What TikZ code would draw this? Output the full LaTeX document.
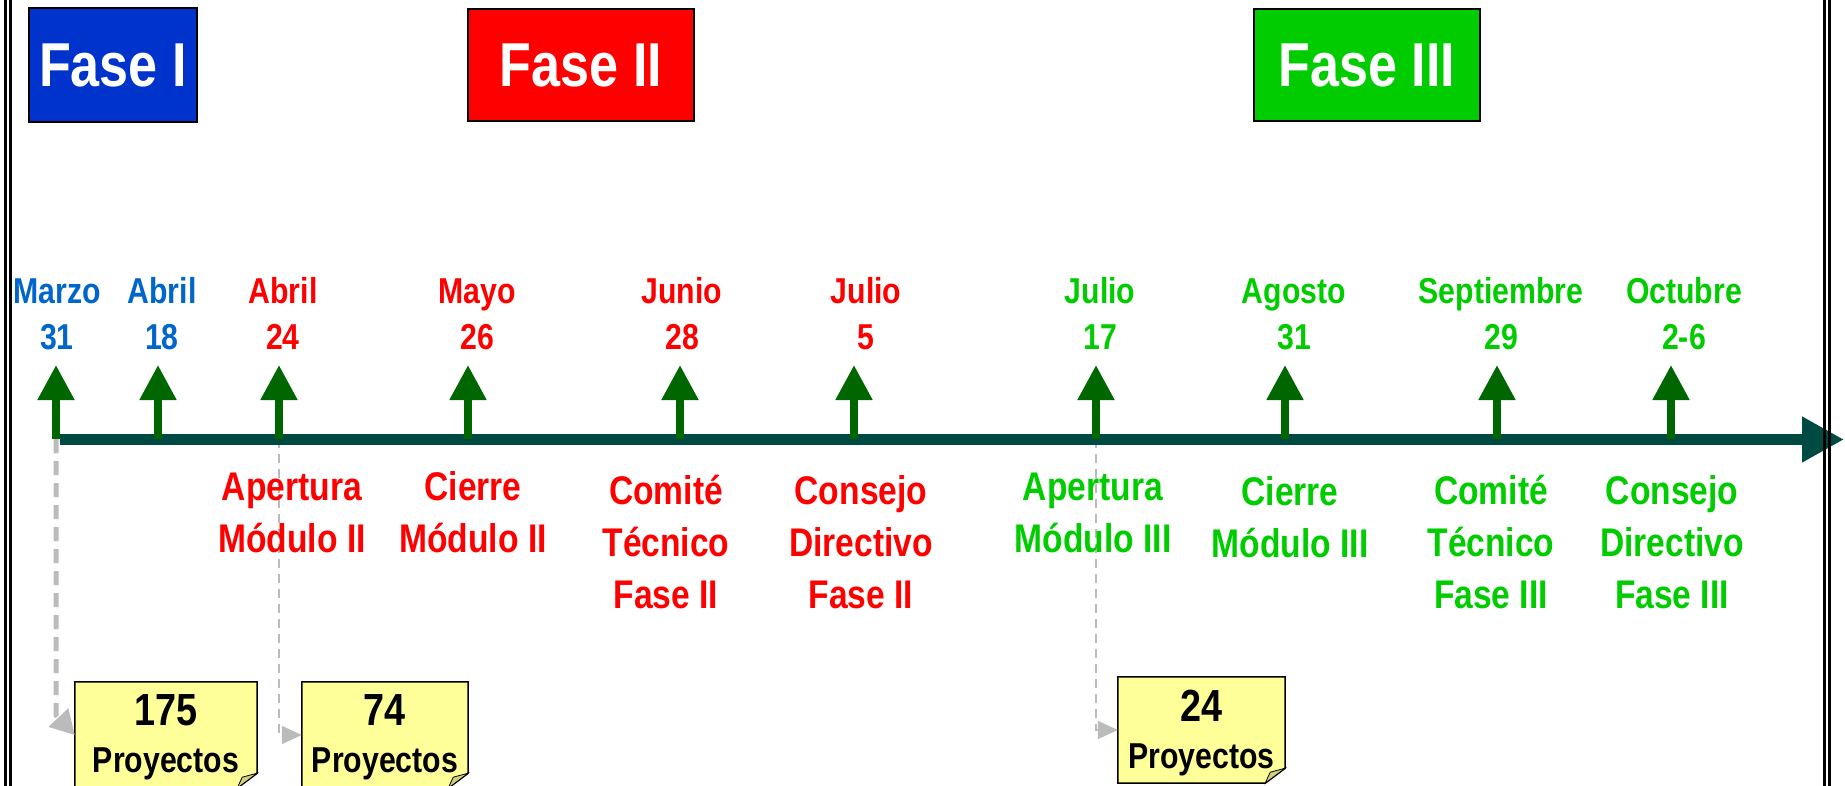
\documentclass[tikz,border=0pt]{standalone}
\usepackage{fontspec}
\setmainfont{Liberation Sans}[FakeStretch=0.84]
\usetikzlibrary{arrows.meta}

\definecolor{azulfase}{HTML}{0033CC}
\definecolor{rojofase}{HTML}{FF0000}
\definecolor{verdefase}{HTML}{00CC00}
\definecolor{azultexto}{HTML}{0066CC}
\definecolor{verdeflecha}{HTML}{006600}
\definecolor{ejecolor}{HTML}{004A44}
\definecolor{notafondo}{HTML}{FFFF99}
\definecolor{notapliegue}{HTML}{D2D27A}
\definecolor{grisguia}{HTML}{BBBBBB}

\tikzset{
  fasebox/.style={draw=black, line width=1.5pt, inner sep=0pt, text=white,
    font=\fontsize{62}{62}\selectfont\bfseries},
  mes/.style={anchor=base, align=center, inner sep=0pt,
    font=\fontsize{36}{46}\selectfont\bfseries},
  evento/.style={anchor=base, align=center, inner sep=0pt,
    font=\fontsize{40}{52}\selectfont\bfseries},
  hito/.style={draw=verdeflecha, line width=8pt,
    -{Triangle[length=35pt,width=35pt]}},
  eje/.style={draw=ejecolor, line width=11pt,
    -{Triangle[length=42pt,width=43pt]}},
  guia/.style={draw=grisguia, dash pattern=on 9pt off 6pt, line width=2pt,
    -{Triangle[length=20pt,width=18pt]}},
  nota/.style={inner sep=0pt},
  numnota/.style={anchor=base, inner sep=0pt, font=\fontsize{45}{45}\selectfont\bfseries},
  txtnota/.style={anchor=base, inner sep=0pt, font=\fontsize{36}{36}\selectfont\bfseries}
}

\begin{document}
\begin{tikzpicture}[x=1pt, y=-1pt]
  \useasboundingbox (0,0) rectangle (1845,786);
  \clip (0,0) rectangle (1845,786);

  % Phase boxes
  \node[fasebox, fill=azulfase, minimum width=168pt, minimum height=114pt] (f1) at (113,65) {Fase I};
  \node[fasebox, fill=rojofase, minimum width=226pt, minimum height=112pt] (f2) at (581,65) {Fase II};
  \node[fasebox, fill=verdefase, minimum width=226pt, minimum height=112pt] (f3) at (1367,65) {Fase III};

  % Points on the time line
  \foreach \x [count=\i] in {56,158,279,468,680,854,1096,1285,1497,1671}
    \coordinate (t\i) at (\x,439);

  % Sticky notes
  \node[nota, minimum width=182pt, minimum height=106pt] (n1) at (166,735) {};
  \node[nota, minimum width=166pt, minimum height=106pt] (n2) at (385,735) {};
  \node[nota, minimum width=167pt, minimum height=106pt] (n3) at (1201.5,730) {};
  \foreach \n in {n1,n2,n3} {
    \filldraw[fill=notafondo, draw=black, line width=1.5pt]
      (\n.north west) -- (\n.north east) -- ([yshift=15pt]\n.south east)
      -- ([xshift=-20pt]\n.south east) -- (\n.south west) -- cycle;
    \filldraw[fill=notapliegue, draw=black, line width=0.8pt]
      ([xshift=-20pt]\n.south east) -- ([yshift=15pt]\n.south east)
      -- ([xshift=-15pt,yshift=11pt]\n.south east) -- cycle;
  }
  \node[numnota] (n1a) at (166,725) {175};
  \node[txtnota] (n1b) at (166,772) {Proyectos};
  \node[numnota] (n2a) at (385,725) {74};
  \node[txtnota] (n2b) at (385,772) {Proyectos};
  \node[numnota] (n3a) at (1201.5,721) {24};
  \node[txtnota] (n3b) at (1201.5,768) {Proyectos};

  % Guides to the notes
  \draw[guia, line width=5pt, dash pattern=on 14pt off 8pt,
    -{Triangle[length=24pt,width=26pt]}] (t1) -- ++(0,276) -- (n1.west);
  \draw[guia] (t3) |- (n2.west);
  \draw[guia] (t7) |- (n3.west);

  % Time line
  \coordinate (ejeA) at (60,439.5);
  \coordinate (ejeB) at (1844,439.5);
  \draw[eje] (ejeA) -- (ejeB);
  \foreach \i in {1,...,10}
    \draw[hito] (t\i) -- ++(0,-74);

  % Dates (base = last line)
  \node[mes, text=azultexto] (m1) at (57,349) {Marzo\\31};
  \node[mes, text=azultexto] (m2) at (162,349) {Abril\\18};
  \node[mes, text=rojofase] (m3) at (283,349) {Abril\\24};
  \node[mes, text=rojofase] (m4) at (477,349) {Mayo\\26};
  \node[mes, text=rojofase] (m5) at (682,349) {Junio\\28};
  \node[mes, text=rojofase] (m6) at (866,349) {Julio\\5};
  \node[mes, text=verdefase] (m7) at (1100,349) {Julio\\17};
  \node[mes, text=verdefase] (m8) at (1294,349) {Agosto\\31};
  \node[mes, text=verdefase] (m9) at (1501,349) {Septiembre\\29};
  \node[mes, text=verdefase] (m10) at (1684,349) {Octubre\\2-6};

  % Events
  \node[evento, text=rojofase] (e3) at (292,552) {Apertura\\Módulo II};
  \node[evento, text=rojofase] (e4) at (473,552) {Cierre\\Módulo II};
  \node[evento, text=rojofase] (e5) at (666,608) {Comité\\Técnico\\Fase II};
  \node[evento, text=rojofase] (e6) at (861,608) {Consejo\\Directivo\\Fase II};
  \node[evento, text=verdefase] (e7) at (1093,552) {Apertura\\Módulo III};
  \node[evento, text=verdefase] (e8) at (1290,557) {Cierre\\Módulo III};
  \node[evento, text=verdefase] (e9) at (1491,608) {Comité\\Técnico\\Fase III};
  \node[evento, text=verdefase] (e10) at (1672,608) {Consejo\\Directivo\\Fase III};

  % Frame lines
  \draw[line width=2.5pt] (5.5,0) -- (5.5,786);
  \draw[line width=3pt] (10.5,0) -- (10.5,786);
  \draw[line width=3pt] (1824.5,0) -- (1824.5,786);
  \draw[line width=3pt] (1829.5,0) -- (1829.5,786);
\end{tikzpicture}
\end{document}
